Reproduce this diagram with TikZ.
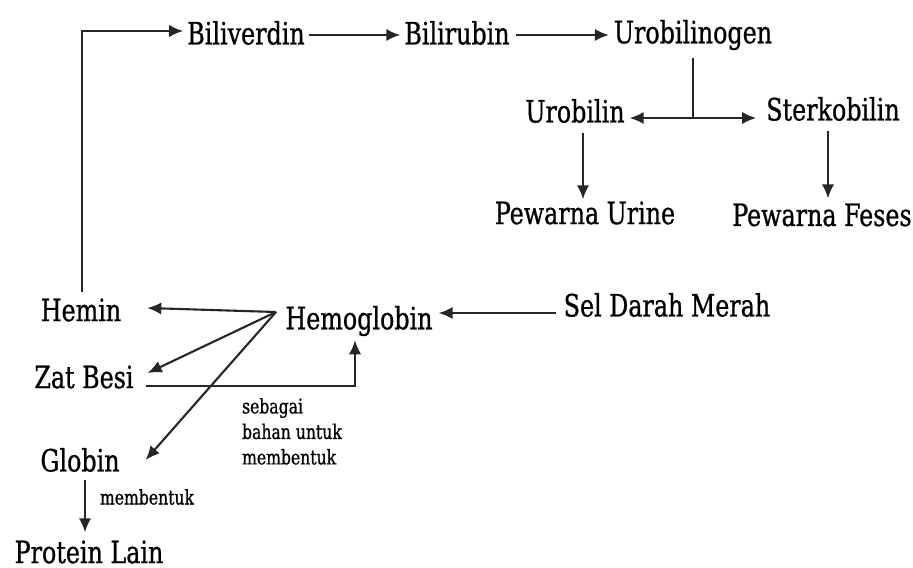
\documentclass[tikz,border=0pt]{standalone}
\usepackage{fontspec}
\setmainfont{DejaVu Serif Condensed}[FakeStretch=0.86,FakeBold=0.8]
\usepackage{tikz}
\usetikzlibrary{calc,arrows.meta}
\tikzset{
  zat/.style={inner sep=1pt,font=\fontsize{17.5}{20}\selectfont},
  note/.style={inner sep=1pt,align=left,font=\fontsize{11.5}{14.5}\selectfont},
  flow/.style={draw=black!85,line width=1.2pt,-{Latex[length=8pt,width=7pt]}},
  link/.style={draw=black!85,line width=1.2pt}
}
\begin{document}
\begin{tikzpicture}[x=0.02cm,y=-0.02cm]
  \useasboundingbox (0,0) rectangle (913,568);

  % Pemecahan heme
  \node[zat] (bv) at (246,33) {Biliverdin};
  \node[zat] (br) at (457,33) {Bilirubin};
  \node[zat] (ubg) at (693,35) {Urobilinogen};
  \node[zat] (ub) at (575,111) {Urobilin};
  \node[zat] (sk) at (833,109) {Sterkobilin};
  \node[zat] (pu) at (585,213) {Pewarna Urine};
  \node[zat] (pf) at (822,215) {Pewarna Feses};

  % Pemecahan sel darah merah
  \node[zat] (hm) at (81,310) {Hemin};
  \node[zat] (hb) at (359,321) {Hemoglobin};
  \node[zat] (sdm) at (667,305) {Sel Darah Merah};
  \node[zat] (zb) at (84,377) {Zat Besi};
  \node[zat] (gl) at (80,460) {Globin};
  \node[zat] (pl) at (89,552) {Protein Lain};
  \node[note,anchor=north west] (bahan) at (240,396) {sebagai\\bahan untuk\\membentuk};
  \node[note] (bentuk) at (147,497) {membentuk};

  \coordinate (split) at (276,312);
  \coordinate (cabang) at (693,118);

  \draw[flow] ($(hm.north)+(1,-4)$) |- ($(bv.west)+(-2,-2)$);
  \draw[flow] ($(bv.east)+(2,2)$) -- ($(br.west)+(-2,2)$);
  \draw[flow] ($(br.east)+(4,2)$) -- ($(br.east -| ubg.west)+(-3,2)$);
  \draw[link] ($(ubg.south)+(0,6)$) -- (cabang);
  \draw[flow] (cabang) -- ($(cabang -| ub.east)+(3,0)$);
  \draw[flow] (cabang) -- ($(cabang -| sk.west)+(-8,0)$);
  \draw[flow] ($(ub.south)+(8,8)$) -- ($(ub.south |- pu.north)+(8,0)$);
  \draw[flow] ($(sk.south)+(-5,8)$) -- ($(sk.south |- pf.north)+(-5,-3)$);

  \draw[flow] ($(sdm.west)+(-6,8)$) -- ($(sdm.west -| hb.east)+(4,8)$);
  \draw[flow] (split) -- ($(hm.east)+(24,-2)$);
  \draw[flow] (split) -- ($(zb.east)+(12,-4)$);
  \draw[flow] (split) -- ($(gl.east)+(24,0)$);
  \draw[flow] ($(zb.east)+(10,9)$) -| ($(hb.south)+(-4,2)$);
  \draw[flow] ($(gl.south)+(5,6)$) -- ($(gl.south |- pl.north)+(5,-6)$);
\end{tikzpicture}
\end{document}
